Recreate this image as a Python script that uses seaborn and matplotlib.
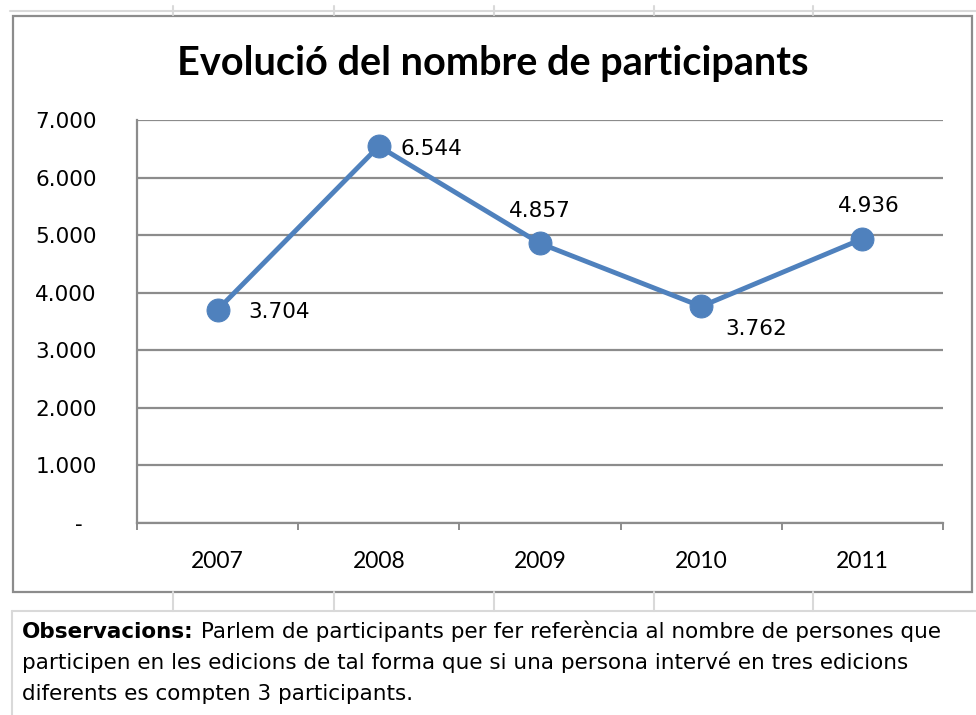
import numpy as np
import pandas as pd
import matplotlib
matplotlib.use('Agg')
import matplotlib.pyplot as plt
import seaborn as sns
from matplotlib.patches import Rectangle
from matplotlib.lines import Line2D

# data
years = ['2007', '2008', '2009', '2010', '2011']
participants = [3704, 6544, 4857, 3762, 4936]
y_ticks = [0, 1000, 2000, 3000, 4000, 5000, 6000, 7000]
y_tick_labels = ['-  ', '1.000', '2.000', '3.000', '4.000', '5.000', '6.000', '7.000']

title = 'Evolució del nombre de participants'
note_bold = 'Observacions:'
note_lines = [
    ' Parlem de participants per fer referència al nombre de persones que',
    'participen en les edicions de tal forma que si una persona intervé en tres edicions',
    'diferents es compten 3 participants.',
]

# label offsets in pixels (dx, dy), styling only
label_offsets = [(62, -2), (53, -3), (0, 32), (55, -23), (6, 33)]

sns.set_style('white')
plt.rcParams['font.family'] = ['Lato', 'DejaVu Sans']
plt.rcParams['text.color'] = 'black'

W, H = 976, 715
fig = plt.figure(figsize=(W / 100, H / 100), dpi=100)


def fx(x):
    return x / W


def fy(y):
    return 1 - y / H


# spreadsheet cell lines behind the chart
cell = '#d9d9d9'
fig.add_artist(Line2D([fx(10), fx(976)], [fy(11), fy(11)], color=cell, lw=1.5))
fig.add_artist(Line2D([fx(12), fx(976)], [fy(611), fy(611)], color=cell, lw=1.5))
fig.add_artist(Line2D([fx(12), fx(12)], [fy(611), fy(715)], color=cell, lw=1.5))
for cx in [173, 334, 494, 654, 813]:
    fig.add_artist(Line2D([fx(cx), fx(cx)], [fy(6), fy(15)], color=cell, lw=1.5))
    fig.add_artist(Line2D([fx(cx), fx(cx)], [fy(592), fy(611)], color=cell, lw=1.5))

# chart border
fig.add_artist(Rectangle((fx(13), fy(592)), fx(972 - 13), (592 - 16) / H,
                         transform=fig.transFigure, fill=False,
                         edgecolor='#8c8c8c', lw=1.6))

ax = fig.add_axes([fx(137), fy(523), fx(943 - 137), (523 - 120) / H])

df = pd.DataFrame({'year': years, 'participants': participants})
sns.lineplot(data=df, x='year', y='participants', ax=ax, color='#4F81BD',
             linewidth=3.5, marker='o', markersize=16.5,
             markeredgecolor='#4F81BD', zorder=3)

for i, (v, (dx, dy)) in enumerate(zip(participants, label_offsets)):
    ax.annotate(f'{v:,}'.replace(',', '.'), (i, v), xytext=(dx, dy),
                textcoords='offset pixels', ha='center', va='center',
                fontsize=15.5, color='black', family='DejaVu Sans')

ax.set_xlim(-0.5, len(years) - 0.5)
ax.set_ylim(0, 7000)
ax.set_yticks(y_ticks)
ax.set_yticklabels(y_tick_labels, family='DejaVu Sans')
ax.set_xticks(range(len(years)))
ax.set_xticks(np.arange(-0.5, len(years)), minor=True)
ax.grid(axis='y', color='#8c8c8c', lw=1.6)
ax.set_axisbelow(True)
ax.tick_params(axis='y', which='major', length=5, width=1.4, color='#8c8c8c',
               pad=24, labelsize=15.5, labelcolor='black')
ax.tick_params(axis='x', which='major', length=0, pad=20, labelsize=16.5,
               labelcolor='black')
ax.tick_params(axis='x', which='minor', length=5, width=1.4, color='#8c8c8c',
               bottom=True)
ax.set_xlabel('')
ax.set_ylabel('')
for side in ['top', 'right']:
    ax.spines[side].set_visible(False)
for side in ['left', 'bottom']:
    ax.spines[side].set_color('#8c8c8c')
    ax.spines[side].set_linewidth(1.6)

fig.text(fx(493), fy(75), title, ha='center', va='baseline', fontsize=28.5,
         fontweight='bold', color='black')

# note with bold prefix
renderer = fig.canvas.get_renderer()
t = fig.text(fx(22), fy(638), note_bold, ha='left', va='baseline',
             fontsize=15.5, fontweight='bold', family='DejaVu Sans',
             color='black')
bb = t.get_window_extent(renderer)
fig.text(bb.x1 / W, fy(638), note_lines[0], ha='left', va='baseline',
         fontsize=15.5, family='DejaVu Sans', color='black')
fig.text(fx(22), fy(669), note_lines[1], ha='left', va='baseline',
         fontsize=15.5, family='DejaVu Sans', color='black')
fig.text(fx(22), fy(700), note_lines[2], ha='left', va='baseline',
         fontsize=15.5, family='DejaVu Sans', color='black')

fig.savefig('out.png', dpi=100)
